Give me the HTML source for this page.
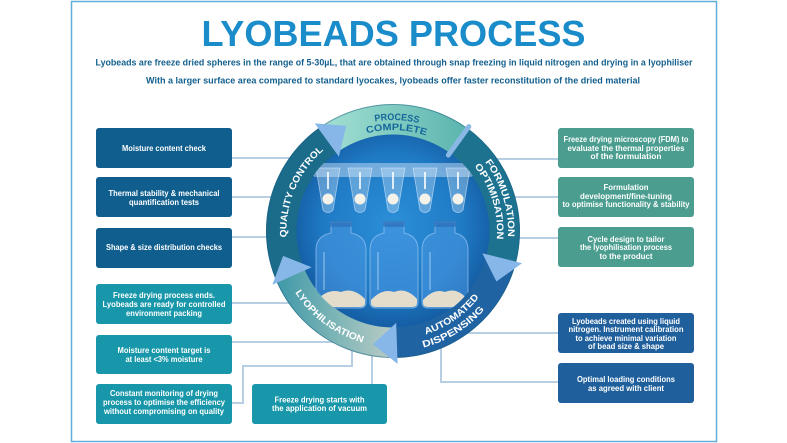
<!DOCTYPE html>
<html>
<head>
<meta charset="utf-8">
<style>
  html,body{margin:0;padding:0;background:#fff;}
  body{width:787px;height:443px;overflow:hidden;}
  svg{display:block;}
  .bt{font-family:"Liberation Sans",Arial,sans-serif;font-weight:bold;font-size:8px;fill:#ffffff;}
  .rt{font-family:"Liberation Sans",Arial,sans-serif;font-weight:bold;font-size:9.5px;fill:#ffffff;}
</style>
</head>
<body>
<svg width="787" height="443" viewBox="0 0 787 443" xmlns="http://www.w3.org/2000/svg">
  <defs>
    <linearGradient id="gPC" x1="322" y1="0" x2="472" y2="0" gradientUnits="userSpaceOnUse">
      <stop offset="0" stop-color="#a4e0d3"/>
      <stop offset="1" stop-color="#58b3ad"/>
    </linearGradient>
    <linearGradient id="gLY" x1="392" y1="0" x2="272" y2="0" gradientUnits="userSpaceOnUse">
      <stop offset="0" stop-color="#b9cbc5"/>
      <stop offset="0.45" stop-color="#7fb6b7"/>
      <stop offset="1" stop-color="#3a96a7"/>
    </linearGradient>
    <radialGradient id="gDisc" cx="393" cy="225" r="100" gradientUnits="userSpaceOnUse">
      <stop offset="0" stop-color="#2b8fd8"/>
      <stop offset="0.7" stop-color="#1f7ac4"/>
      <stop offset="1" stop-color="#155fa6"/>
    </radialGradient>
    <clipPath id="discClip"><circle cx="393" cy="231" r="97"/></clipPath>

    <path id="pProc" d="M298.9,172.2 A111,111 0 0 1 491.0,178.9"/>
    <path id="pComp" d="M307.4,177.5 A101,101 0 0 1 482.2,183.6"/>
    <path id="pForm" d="M418.9,118.9 A115,115 0 0 1 477.1,309.4"/>
    <path id="pOpt" d="M416.4,129.7 A104,104 0 0 1 469.1,301.9"/>
    <path id="pAuto" d="M347.1,329.3 A108.5,108.5 0 0 0 501.1,221.5"/>
    <path id="pDisp" d="M336.4,337.4 A120.5,120.5 0 0 0 513.4,226.8"/>
    <path id="pLyo" d="M278.2,217.9 A115.5,115.5 0 0 0 439.0,336.9"/>
    <path id="pQC" d="M307.9,295.1 A106.5,106.5 0 0 1 380.0,125.3"/>
  </defs>

  <!-- frame -->
  <rect x="71.5" y="1.5" width="645" height="440" fill="none" stroke="#62aedb" stroke-width="1.5"/>

  <!-- title -->
  <text x="393.5" y="46" text-anchor="middle" font-family="'Liberation Sans',Arial,sans-serif" font-weight="bold" font-size="36" fill="#1b8cca" textLength="384" lengthAdjust="spacingAndGlyphs">LYOBEADS PROCESS</text>
  <text x="394" y="65.5" text-anchor="middle" font-family="'Liberation Sans',Arial,sans-serif" font-weight="bold" font-size="9.5" fill="#125f8d" textLength="597" lengthAdjust="spacingAndGlyphs">Lyobeads are freeze dried spheres in the range of 5-30µL, that are obtained through snap freezing in liquid nitrogen and drying in a lyophiliser</text>
  <text x="393" y="83.5" text-anchor="middle" font-family="'Liberation Sans',Arial,sans-serif" font-weight="bold" font-size="9.5" fill="#125f8d" textLength="494" lengthAdjust="spacingAndGlyphs">With a larger surface area compared to standard lyocakes, lyobeads offer faster reconstitution of the dried material</text>

  <!-- connectors -->
  <g stroke="#b8cee2" stroke-width="2" fill="none">
    <line x1="232" y1="158" x2="300" y2="158"/>
    <line x1="232" y1="197" x2="282" y2="197"/>
    <line x1="232" y1="237" x2="282" y2="237"/>
    <line x1="232" y1="303" x2="296" y2="303"/>
    <line x1="232" y1="342" x2="340" y2="342"/>
    <polyline points="232,403 243,403 243,366 352,366 352,345"/>
    <line x1="372" y1="384" x2="372" y2="350"/>
    <line x1="490" y1="159" x2="558" y2="159"/>
    <line x1="505" y1="197" x2="558" y2="197"/>
    <line x1="508" y1="238" x2="558" y2="238"/>
    <line x1="460" y1="333" x2="558" y2="333"/>
    <polyline points="441,340 441,382 558,382"/>
  </g>

  <!-- left boxes -->
  <g>
    <rect x="96" y="128" width="136" height="40" rx="3" fill="#0f5e8e"/>
    <rect x="96" y="177" width="136" height="40" rx="3" fill="#0f5e8e"/>
    <rect x="96" y="228" width="136" height="40" rx="3" fill="#0f5e8e"/>
    <rect x="96" y="284" width="136" height="40" rx="3" fill="#1797a9"/>
    <rect x="96" y="335" width="136" height="39" rx="3" fill="#1797a9"/>
    <rect x="96" y="384" width="136" height="40" rx="3" fill="#1797a9"/>
    <rect x="252" y="384" width="135" height="40" rx="3" fill="#1797a9"/>
  </g>
  <g class="bt" text-anchor="middle">
    <text class="bt" x="164" y="151" textLength="84" lengthAdjust="spacingAndGlyphs">Moisture content check</text>
    <text class="bt" x="164" y="196" textLength="111" lengthAdjust="spacingAndGlyphs">Thermal stability &amp; mechanical</text>
    <text class="bt" x="164" y="205" textLength="70" lengthAdjust="spacingAndGlyphs">quantification tests</text>
    <text class="bt" x="164" y="250" textLength="116" lengthAdjust="spacingAndGlyphs">Shape &amp; size distribution checks</text>
    <text class="bt" x="164" y="298" textLength="102" lengthAdjust="spacingAndGlyphs">Freeze drying process ends.</text>
    <text class="bt" x="164" y="307" textLength="123" lengthAdjust="spacingAndGlyphs">Lyobeads are ready for controlled</text>
    <text class="bt" x="164" y="316" textLength="76" lengthAdjust="spacingAndGlyphs">environment packing</text>
    <text class="bt" x="164" y="353" textLength="93" lengthAdjust="spacingAndGlyphs">Moisture content target is</text>
    <text class="bt" x="164" y="362" textLength="77" lengthAdjust="spacingAndGlyphs">at least &lt;3% moisture</text>
    <text class="bt" x="164" y="396" textLength="108" lengthAdjust="spacingAndGlyphs">Constant monitoring of drying</text>
    <text class="bt" x="164" y="405" textLength="122" lengthAdjust="spacingAndGlyphs">process to optimise the efficiency</text>
    <text class="bt" x="164" y="414" textLength="120" lengthAdjust="spacingAndGlyphs">without compromising on quality</text>
    <text class="bt" x="319.5" y="402.5" textLength="90" lengthAdjust="spacingAndGlyphs">Freeze drying starts with</text>
    <text class="bt" x="319.5" y="411" textLength="95" lengthAdjust="spacingAndGlyphs">the application of vacuum</text>
  </g>

  <!-- right boxes -->
  <g>
    <rect x="558" y="128" width="136" height="40" rx="3" fill="#4a9d8f"/>
    <rect x="558" y="177" width="136" height="40" rx="3" fill="#4a9d8f"/>
    <rect x="558" y="227" width="136" height="40" rx="3" fill="#4a9d8f"/>
    <rect x="558" y="313" width="136" height="40" rx="3" fill="#1f5f9c"/>
    <rect x="558" y="363" width="136" height="40" rx="3" fill="#1f5f9c"/>
  </g>
  <g text-anchor="middle">
    <text class="bt" x="626" y="142" textLength="125" lengthAdjust="spacingAndGlyphs">Freeze drying microscopy (FDM) to</text>
    <text class="bt" x="626" y="151" textLength="117" lengthAdjust="spacingAndGlyphs">evaluate the  thermal properties</text>
    <text class="bt" x="626" y="159" textLength="71" lengthAdjust="spacingAndGlyphs">of the formulation</text>
    <text class="bt" x="626" y="190" textLength="45" lengthAdjust="spacingAndGlyphs">Formulation</text>
    <text class="bt" x="626" y="199" textLength="92" lengthAdjust="spacingAndGlyphs">development/fine-tuning</text>
    <text class="bt" x="626" y="207" textLength="127" lengthAdjust="spacingAndGlyphs">to optimise functionality &amp; stability</text>
    <text class="bt" x="626" y="242" textLength="77" lengthAdjust="spacingAndGlyphs">Cycle design to tailor</text>
    <text class="bt" x="626" y="250" textLength="92" lengthAdjust="spacingAndGlyphs">the lyophilisation process</text>
    <text class="bt" x="626" y="259" textLength="53" lengthAdjust="spacingAndGlyphs">to the product</text>
    <text class="bt" x="626" y="324" textLength="108" lengthAdjust="spacingAndGlyphs">Lyobeads created using liquid</text>
    <text class="bt" x="626" y="332" textLength="115" lengthAdjust="spacingAndGlyphs">nitrogen. Instrument calibration</text>
    <text class="bt" x="626" y="341" textLength="101" lengthAdjust="spacingAndGlyphs">to achieve minimal variation</text>
    <text class="bt" x="626" y="349" textLength="76" lengthAdjust="spacingAndGlyphs">of bead size &amp; shape</text>
    <text class="bt" x="626" y="382" textLength="98" lengthAdjust="spacingAndGlyphs">Optimal loading conditions</text>
    <text class="bt" x="626" y="391" textLength="76" lengthAdjust="spacingAndGlyphs">as agreed with client</text>
  </g>

  <!-- ring segments -->
  <!-- Process complete 126 -> 54 -->
  <path d="M318.4,128.3 A127,127 0 0 1 467.6,128.3 L449.4,153.3 A96,96 0 0 0 336.6,153.3 Z" fill="url(#gPC)"/>
  <!-- Formulation 54 -> -14 -->
  <path d="M467.6,128.3 A127,127 0 0 1 516.2,261.7 L486.1,254.2 A96,96 0 0 0 449.4,153.3 Z" fill="#1d7290"/>
  <!-- Automated -14 -> -90 -->
  <path d="M516.2,261.7 A127,127 0 0 1 393,358 L393,327 A96,96 0 0 0 486.1,254.2 Z" fill="#2063a2"/>
  <!-- Lyophilisation -90 -> -156 -->
  <path d="M393,358 A127,127 0 0 1 277.0,282.7 L305.3,270.0 A96,96 0 0 0 393,327 Z" fill="url(#gLY)"/>
  <!-- Quality control -156 -> 126 -->
  <path d="M277.0,282.7 A127,127 0 0 1 318.4,128.3 L336.6,153.3 A96,96 0 0 0 305.3,270.0 Z" fill="#1b6b8b"/>
  <circle cx="393" cy="231" r="126.5" fill="none" stroke="#155d80" stroke-width="1" opacity="0.5"/>

  <!-- inner disc -->
  <circle cx="393" cy="231" r="96.5" fill="url(#gDisc)"/>
  <g clip-path="url(#discClip)">
    <!-- tube strip -->
    <rect x="312" y="163" width="162" height="14" rx="4" fill="#d6e8fa" opacity="0.45"/>
    <g fill="#cfe4fa" fill-opacity="0.35" stroke="#e6f2ff" stroke-opacity="0.6" stroke-width="0.8">
      <path d="M316,168 L340,168 L333,210 Q328,215 323,210 Z"/>
      <path d="M348,168 L372,168 L365,210 Q360,215 355,210 Z"/>
      <path d="M381,168 L405,168 L398,210 Q393,215 388,210 Z"/>
      <path d="M413,168 L437,168 L430,210 Q425,215 420,210 Z"/>
      <path d="M446,168 L470,168 L463,210 Q458,215 453,210 Z"/>
    </g>
    <g stroke="#ffffff" stroke-width="2" opacity="0.8">
      <line x1="328" y1="172" x2="328" y2="189"/>
      <line x1="360" y1="172" x2="360" y2="189"/>
      <line x1="393" y1="172" x2="393" y2="189"/>
      <line x1="425" y1="172" x2="425" y2="189"/>
      <line x1="458" y1="172" x2="458" y2="189"/>
    </g>
    <g fill="#f5f2ea">
      <circle cx="328" cy="199" r="5.5"/>
      <circle cx="360" cy="199" r="5.5"/>
      <circle cx="393" cy="199" r="5.5"/>
      <circle cx="425" cy="199" r="5.5"/>
      <circle cx="458" cy="199" r="5.5"/>
    </g>
    <!-- bottles -->
    <g fill="#4a98e2" fill-opacity="0.55" stroke="#a9d1fb" stroke-opacity="0.6" stroke-width="1">
      <path d="M331,222 h20 v11 Q366,236 366,250 V302 Q366,308 360,308 H322 Q316,308 316,302 V250 Q316,236 331,233 Z"/>
      <path d="M384,222 h20 v11 Q418,236 418,250 V302 Q418,308 412,308 H376 Q370,308 370,302 V250 Q370,236 384,233 Z"/>
      <path d="M435,222 h20 v11 Q468,236 468,250 V302 Q468,308 462,308 H428 Q422,308 422,302 V250 Q422,236 435,233 Z"/>
    </g>
    <g fill="#2d6fb8" opacity="0.7">
      <rect x="330" y="221" width="22" height="6" rx="2"/>
      <rect x="383" y="221" width="22" height="6" rx="2"/>
      <rect x="434" y="221" width="22" height="6" rx="2"/>
    </g>
    <g fill="#e4ddcc">
      <path d="M317,300 Q328,288 341,292 Q353,287 365,299 V303 Q365,307 360,307 H322 Q317,307 317,303 Z"/>
      <path d="M371,300 Q382,288 394,292 Q406,287 417,299 V303 Q417,307 412,307 H376 Q371,307 371,303 Z"/>
      <path d="M423,300 Q434,288 445,292 Q457,287 467,299 V303 Q467,307 462,307 H428 Q423,307 423,303 Z"/>
    </g>
    <g stroke="#cfe6ff" stroke-width="1.5" opacity="0.45">
      <line x1="324" y1="252" x2="324" y2="290"/>
      <line x1="378" y1="252" x2="378" y2="290"/>
      <line x1="430" y1="252" x2="430" y2="290"/>
    </g>
  </g>

  <!-- separator bar at 54deg -->
  <line x1="468.8" y1="126.6" x2="448.3" y2="155.1" stroke="#8ab8e6" stroke-width="5" stroke-linecap="round"/>

  <!-- arrowheads -->
  <g fill="#86b7e8">
    <polygon points="314.8,123.4 338.9,156.6 346.3,125.9"/>
    <polygon points="522.0,263.2 482.3,253.3 496.4,281.5"/>
    <polygon points="397.6,363.9 396.2,322.9 372.9,344.2"/>
    <polygon points="272.4,284.7 311.7,267.2 283.1,255.9"/>
  </g>

  <!-- ring labels -->
  <text class="rt" style="fill:#15679a"><textPath href="#pProc" startOffset="50%" text-anchor="middle" textLength="44" lengthAdjust="spacingAndGlyphs">PROCESS</textPath></text>
  <text class="rt" style="fill:#15679a"><textPath href="#pComp" startOffset="50%" text-anchor="middle" textLength="60" lengthAdjust="spacingAndGlyphs">COMPLETE</textPath></text>
  <text class="rt"><textPath href="#pForm" startOffset="50%" text-anchor="middle" textLength="80" lengthAdjust="spacingAndGlyphs">FORMULATION</textPath></text>
  <text class="rt"><textPath href="#pOpt" startOffset="50%" text-anchor="middle" textLength="78" lengthAdjust="spacingAndGlyphs">OPTIMISATION</textPath></text>
  <text class="rt"><textPath href="#pAuto" startOffset="50%" text-anchor="middle" textLength="66" lengthAdjust="spacingAndGlyphs">AUTOMATED</textPath></text>
  <text class="rt"><textPath href="#pDisp" startOffset="50%" text-anchor="middle" textLength="73" lengthAdjust="spacingAndGlyphs">DISPENSING</textPath></text>
  <text class="rt"><textPath href="#pLyo" startOffset="50%" text-anchor="middle" textLength="86" lengthAdjust="spacingAndGlyphs">LYOPHILISATION</textPath></text>
  <text class="rt"><textPath href="#pQC" startOffset="50%" text-anchor="middle" textLength="98" lengthAdjust="spacingAndGlyphs">QUALITY CONTROL</textPath></text>
</svg>
</body>
</html>
